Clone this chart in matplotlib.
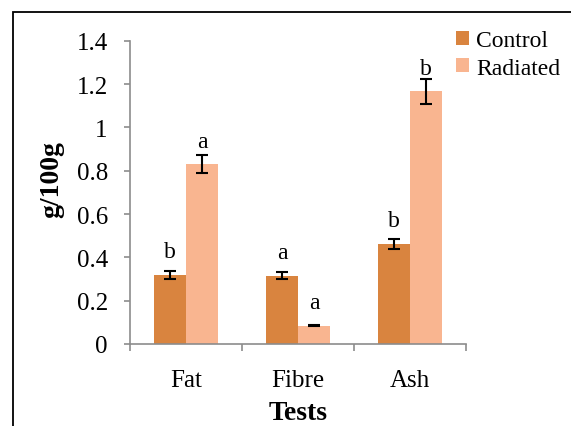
import numpy as np
import matplotlib
matplotlib.use('Agg')
from matplotlib import pyplot as plt
from matplotlib.patches import Rectangle

# data
tests = ['Fat', 'Fibre', 'Ash']
control = [0.32, 0.315, 0.462]
control_err = [0.018, 0.016, 0.024]
radiated = [0.83, 0.085, 1.167]
radiated_err = [0.042, 0.004, 0.058]
control_letters = ['b', 'a', 'b']
radiated_letters = ['a', 'a', 'b']
yticks = [0, 0.2, 0.4, 0.6, 0.8, 1, 1.2, 1.4]
ytick_labels = ['0', '0.2', '0.4', '0.6', '0.8', '1', '1.2', '1.4']

plt.rcParams['font.family'] = 'Liberation Serif'

fig = plt.figure(figsize=(5.71, 4.27), dpi=100)
ax = fig.add_axes([130 / 571, 1 - 345 / 427, 336 / 571, 303.3 / 427])

c_control = '#D9843F'
c_radiated = '#F9B590'
axis_grey = '#8C8C8C'

x = np.arange(len(tests))
w = 0.286
err_style = dict(ecolor='black', elinewidth=1.5, capsize=4, capthick=1.5)
b1 = ax.bar(x - w / 2, control, w, color=c_control, label='Control',
            yerr=control_err, error_kw=err_style, zorder=2)
b2 = ax.bar(x + w / 2, radiated, w, color=c_radiated, label='Radiated',
            yerr=radiated_err, error_kw=err_style, zorder=2)

# significance letters above each bar
for bars, letters in [(b1, control_letters), (b2, radiated_letters)]:
    for rect, letter in zip(bars, letters):
        ax.annotate(letter, (rect.get_x() + rect.get_width() / 2, rect.get_height()),
                    xytext=(0, 12.7), textcoords='offset points',
                    ha='center', va='baseline', fontsize=17)

ax.set_xlim(-0.5, 2.5)
ax.set_ylim(0, 1.4)
ax.set_yticks(yticks)
ax.set_yticklabels(ytick_labels)
ax.set_xticks(x)
ax.set_xticklabels(tests)
ax.set_xticks([-0.5, 0.5, 1.5, 2.5], minor=True)

ax.tick_params(axis='y', which='major', length=4, width=1.2, color=axis_grey,
               labelsize=18, pad=12)
ax.tick_params(axis='x', which='major', length=0, labelsize=18, pad=18)
ax.tick_params(axis='x', which='minor', length=5, width=1.2, color=axis_grey)

for side in ['top', 'right']:
    ax.spines[side].set_visible(False)
for side in ['left', 'bottom']:
    ax.spines[side].set_color(axis_grey)
    ax.spines[side].set_linewidth(1.2)

ax.set_ylabel('g/100g', fontsize=20, fontweight='bold')
ax.yaxis.set_label_coords(-0.196, 0.547)
ax.set_xlabel('Tests', fontsize=20, fontweight='bold', va='baseline')
ax.xaxis.set_label_coords(0.5, -0.247)

fig.legend(handles=[b1, b2], labels=['Control', 'Radiated'], loc='upper left',
           bbox_to_anchor=(456 / 571, 1 - 31 / 427), frameon=False, fontsize=17,
           handlelength=0.55, handleheight=0.55, handletextpad=0.3,
           labelspacing=0.28, borderpad=0, borderaxespad=0)

# outer chart border (clipped at right and bottom)
fig.patches.append(Rectangle((12.7 / 571, -0.1), 1.2, 1.1 - 12.7 / 427,
                             transform=fig.transFigure, fill=False,
                             edgecolor='black', linewidth=1.3, zorder=0))

fig.savefig('out.png', dpi=100)
